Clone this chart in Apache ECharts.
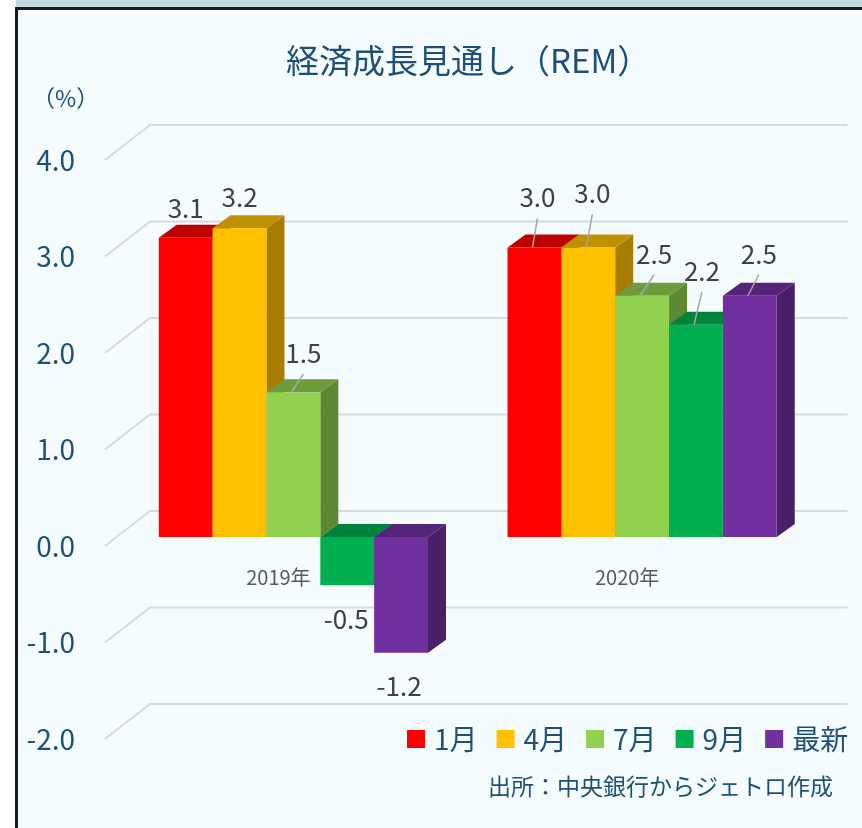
<!DOCTYPE html>
<html lang="ja" style="height: 100%">
<head>
  <meta charset="utf-8">
  <style>
    body { margin: 0; background: #fff; }
    #strip { position: absolute; left: 16px; top: 0; width: 846px; height: 7px; background: #c2d9e2; }
    #frame { position: absolute; left: 15px; top: 7px; width: 847px; height: 821px;
             border-left: 3px solid #1a1a1a; border-top: 3px solid #1a1a1a; background: #f5fcfe; box-sizing: border-box; }
    #container { position: absolute; left: 0; top: 0; width: 862px; height: 828px; }
  </style>
</head>
<body>
  <div id="strip"></div>
  <div id="frame"></div>
  <div id="container"></div>

  <script type="text/javascript" src="https://cdn.jsdelivr.net/npm/echarts@6/dist/echarts.min.js"></script>
  <script type="text/javascript">
    // 元データ
    var categories = ['2019年', '2020年'];
    var months = ['1月', '4月', '7月', '9月', '最新'];
    var jan = [3.1, 3.0];
    var apr = [3.2, 3.0];
    var jul = [1.5, 2.5];
    var sep = [-0.5, 2.2];
    var latest = [-1.2, 2.5];
    var yTicks = [-2, -1, 0, 1, 2, 3, 4];

    var seriesValues = [jan, apr, jul, sep, latest];
    var colors = ['#ff0000', '#ffc000', '#92d050', '#00b050', '#7030a0'];

    // ラベルの位置調整 [dx, dy]（Excel で手動移動されたもの）
    var labelShift = [
      [[0, -30], [3, -50]],
      [[0, -31], [4, -54]],
      [[10, -39], [12, -42]],
      [[-1, 34], [6, -54]],
      [[-2, 33], [9, -42]]
    ];

    var FONT = '"Noto Sans CJK JP", "Noto Sans", sans-serif';
    var BLUE = '#1f4e79';
    var BAR_FRAC = 0.1544;  // band に対する棒の幅
    var LIFT = 9;           // 棒の前面は目盛りより少し上
    var DX = 18, DY = 13;   // 奥行き

    function shade(hex, k) {
      var n = parseInt(hex.slice(1), 16);
      var r = Math.round(((n >> 16) & 255) * k);
      var g = Math.round(((n >> 8) & 255) * k);
      var b = Math.round((n & 255) * k);
      return 'rgb(' + r + ',' + g + ',' + b + ')';
    }

    function barRenderer(si) {
      return function (params, api) {
        var ci = api.value(0), v = api.value(1);
        var base = api.coord([ci, 0]);
        var tip = api.coord([ci, v]);
        var band = api.size([1, 0])[0];
        var w = band * BAR_FRAC;
        var x0 = base[0] - 2.5 * w + si * w;
        var yb = base[1] - LIFT, yt = tip[1] - LIFT;
        var yHi = Math.min(yb, yt), yLo = Math.max(yb, yt);
        var c = colors[si];
        var cx = x0 + w / 2;
        var sh = labelShift[si][ci];
        var yEdge = v >= 0 ? yHi : yLo;
        var lx = cx + sh[0], ly = yEdge + sh[1];
        var children = [
          { type: 'polygon', shape: { points: [[x0 + w, yHi], [x0 + w + DX, yHi - DY], [x0 + w + DX, yLo - DY], [x0 + w, yLo]] },
            style: { fill: shade(c, 0.65) } },
          { type: 'polygon', shape: { points: [[x0, yHi], [x0 + w, yHi], [x0 + w + DX, yHi - DY], [x0 + DX, yHi - DY]] },
            style: { fill: shade(c, 0.75) } },
          { type: 'rect', shape: { x: x0, y: yHi, width: w, height: yLo - yHi }, style: { fill: c } },
          { type: 'text', z2: 100, x: lx, y: ly,
            style: { text: v.toFixed(1), fill: '#404040', font: '26px ' + FONT, align: 'center', verticalAlign: 'middle' } }
        ];
        if (sh[1] < -35) {
          children.push({ type: 'line', z2: 100,
            shape: { x1: cx - 2, y1: yHi, x2: lx, y2: ly + 21 },
            style: { stroke: '#a6a6a6', lineWidth: 1.5 } });
        }
        return { type: 'group', children: children };
      };
    }

    var series = [{
      type: 'custom',
      silent: true,
      data: yTicks.map(function (t) { return [0, t]; }),
      renderItem: function (params, api) {
        var p = api.coord([0, api.value(1)]);
        var cs = params.coordSys;
        return {
          type: 'polyline',
          shape: { points: [[cs.x - 14, p[1]], [cs.x + 31, p[1] - 35], [cs.x + cs.width + 31, p[1] - 35]] },
          style: { stroke: '#d9d9d9', lineWidth: 2, fill: null }
        };
      }
    }];

    months.forEach(function (m, si) {
      series.push({
        name: m,
        type: 'custom',
        itemStyle: { color: colors[si] },
        data: seriesValues[si].map(function (v, ci) { return [ci, v]; }),
        renderItem: barRenderer(si)
      });
    });

    var myChart = echarts.init(document.getElementById('container'), null, { renderer: 'canvas' });
    var option = {
      backgroundColor: 'transparent',
      animation: false,
      title: {
        text: '経済成長見通し（REM）',
        left: 281, top: 39,
        textStyle: { color: BLUE, fontSize: 33, fontWeight: 'normal', fontFamily: FONT }
      },
      legend: {
        data: months,
        left: 402, top: 720,
        itemWidth: 18, itemHeight: 18, itemGap: 19,
        icon: 'rect',
        textStyle: { color: BLUE, fontSize: 28, fontFamily: FONT, padding: [0, 0, 0, 4] }
      },
      grid: { left: 119, right: 45.5, top: 160, bottom: 89, containLabel: false },
      xAxis: {
        type: 'category',
        data: categories,
        offset: -194,
        axisLine: { show: false, onZero: false },
        axisTick: { show: false },
        axisLabel: { color: '#595959', fontSize: 20, fontFamily: FONT, margin: 22, padding: [0, 30, 0, 0] }
      },
      yAxis: {
        type: 'value',
        min: -2, max: 4, interval: 1,
        axisLine: { show: false },
        axisTick: { show: false },
        splitLine: { show: false },
        axisLabel: {
          color: BLUE, fontSize: 28, fontFamily: FONT, margin: 44,
          formatter: function (v) { return v.toFixed(1); }
        }
      },
      graphic: [
        { type: 'text', left: 32, top: 87, style: { text: '（%）', fill: BLUE, font: '23px ' + FONT } },
        { type: 'text', right: 29, top: 775, style: { text: '出所：中央銀行からジェトロ作成', fill: BLUE, font: '23px ' + FONT } }
      ],
      series: series
    };
    myChart.setOption(option);
    window.addEventListener('resize', myChart.resize);
  </script>
</body>
</html>
